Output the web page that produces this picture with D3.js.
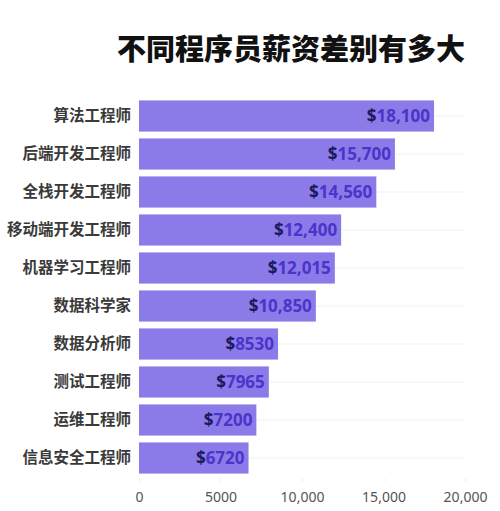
<!DOCTYPE html>
<html lang="zh">
<head>
    <meta charset="UTF-8">
    <script src="https://cdn.jsdelivr.net/npm/d3@7"></script>
    <title>不同程序员薪资差别有多大</title>
    <style>
        body { margin: 0; background: #ffffff; }
        svg { display: block; font-family: "Noto Sans CJK SC", "Noto Sans", sans-serif; }
        .axis path { display: none; }
        .axis line { stroke: #eeeeee; }
        .axis text { fill: #555555; font-size: 14px; font-family: "Noto Sans", "Noto Sans CJK SC", sans-serif; }
    </style>
</head>
<body>
<svg width="500" height="511"></svg>
<script>
    const WIDTH = 500;
    const HEIGHT = 511;
    const MARGIN_LEFT = 139;
    const MARGIN_RIGHT = 35;
    const MARGIN_TOP = 97;
    const MARGIN_BOTTOM = 34;

    const TITLE = "不同程序员薪资差别有多大";
    const jobs = ["算法工程师", "后端开发工程师", "全栈开发工程师", "移动端开发工程师", "机器学习工程师",
        "数据科学家", "数据分析师", "测试工程师", "运维工程师", "信息安全工程师"];
    const salaries = [18100, 15700, 14560, 12400, 12015, 10850, 8530, 7965, 7200, 6720];
    const ticks = [0, 5000, 10000, 15000, 20000];

    // 10,000 and up get a comma, smaller numbers don't
    const fmt = v => v >= 10000 ? d3.format(",")(v) : String(v);

    const svg = d3.select("svg");

    const x = d3.scaleLinear()
        .domain([0, 20000])
        .range([MARGIN_LEFT, WIDTH - MARGIN_RIGHT]);

    const y = d3.scaleBand()
        .domain(jobs)
        .range([MARGIN_TOP, HEIGHT - MARGIN_BOTTOM])
        .paddingInner(0.18)
        .paddingOuter(0.09);

    svg.append("text")
        .attr("x", 465)
        .attr("y", 60)
        .attr("text-anchor", "end")
        .style("font-size", "29px")
        .style("font-weight", 900)
        .style("fill", "#111111")
        .text(TITLE);

    // faint row lines behind the bars
    svg.append("g")
        .selectAll("line")
        .data(jobs)
        .enter()
        .append("line")
        .attr("x1", x(0))
        .attr("x2", x(20000))
        .attr("y1", d => y(d) + y.bandwidth() / 2)
        .attr("y2", d => y(d) + y.bandwidth() / 2)
        .style("stroke", "#f0f0f0");

    svg.append("g")
        .attr("class", "axis bottom")
        .attr("transform", `translate(0, ${HEIGHT - MARGIN_BOTTOM + 1})`)
        .call(d3.axisBottom(x).tickValues(ticks).tickFormat(fmt).tickSize(4).tickPadding(10));

    svg.append("g")
        .selectAll("rect")
        .data(jobs)
        .enter()
        .append("rect")
        .attr("x", x(0))
        .attr("y", d => y(d))
        .attr("width", (d, i) => x(salaries[i]) - x(0))
        .attr("height", y.bandwidth())
        .style("fill", "#8b7be9");

    svg.append("g")
        .selectAll("text")
        .data(jobs)
        .enter()
        .append("text")
        .attr("x", x(0) - 8)
        .attr("y", d => y(d) + y.bandwidth() / 2)
        .attr("dy", "0.35em")
        .attr("text-anchor", "end")
        .style("font-size", "15.5px")
        .style("font-weight", 700)
        .style("fill", "#3a3a3a")
        .text(d => d);

    const values = svg.append("g")
        .selectAll("text")
        .data(jobs)
        .enter()
        .append("text")
        .attr("x", (d, i) => x(salaries[i]) - 4)
        .attr("y", d => y(d) + y.bandwidth() / 2)
        .attr("dy", "0.36em")
        .attr("text-anchor", "end")
        .style("font-family", "'Noto Sans', sans-serif")
        .style("font-size", "17px")
        .style("font-weight", 700);

    values.append("tspan")
        .style("fill", "#1c1a5c")
        .text("$");
    values.append("tspan")
        .style("fill", "#4b34c9")
        .text((d, i) => fmt(salaries[i]));
</script>
</body>
</html>
